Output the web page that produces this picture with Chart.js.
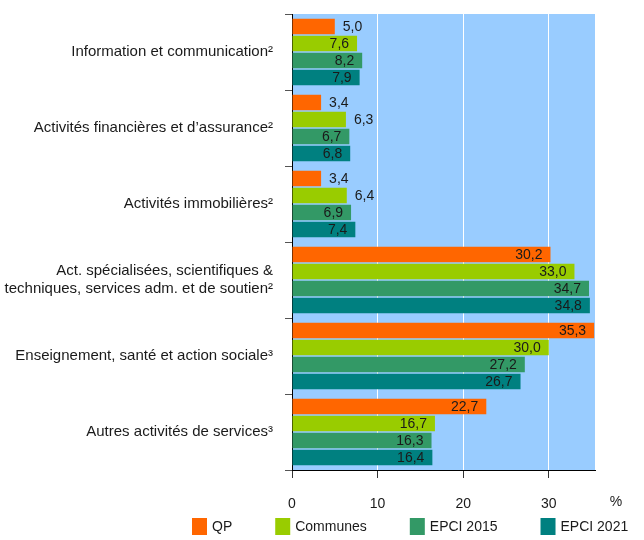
<!DOCTYPE html>
<html>
<head>
<meta charset="utf-8">
<script src="https://cdn.jsdelivr.net/npm/chart.js@4/dist/chart.umd.min.js"></script>
<style>
  body { margin: 0; background: #fff; }
  #wrap { width: 644px; height: 540px; }
</style>
</head>
<body>
<div id="wrap"><canvas id="chart" width="644" height="540"></canvas></div>
<script>
// categories (top to bottom)
const categories = [
  'Information et communication²',
  'Activités financières et d’assurance²',
  'Activités immobilières²',
  ['Act. spécialisées, scientifiques &', 'techniques, services adm. et de soutien²'],
  'Enseignement, santé et action sociale³',
  'Autres activités de services³'
];
const seriesNames = ['QP', 'Communes', 'EPCI 2015', 'EPCI 2021'];
const qp = [5.0, 3.4, 3.4, 30.2, 35.3, 22.7];
const communes = [7.6, 6.3, 6.4, 33.0, 30.0, 16.7];
const epci2015 = [8.2, 6.7, 6.9, 34.7, 27.2, 16.3];
const epci2021 = [7.9, 6.8, 7.4, 34.8, 26.7, 16.4];
const xTicks = [0, 10, 20, 30];

const colors = ['#ff6600', '#99cc00', '#339966', '#008080'];
const FONT = '"Liberation Sans", Arial, Helvetica, sans-serif';

// blue plot background
const plotBg = {
  id: 'plotBg',
  beforeDraw(chart) {
    const a = chart.chartArea, c = chart.ctx;
    c.save();
    c.fillStyle = '#99ccff';
    c.fillRect(a.left, a.top, a.right - a.left, a.bottom - a.top);
    c.restore();
  }
};

// value labels, inside the bar end when it fits, otherwise after it
const valueLabels = {
  id: 'valueLabels',
  afterDatasetsDraw(chart) {
    const c = chart.ctx;
    c.save();
    c.font = '14px ' + FONT;
    c.fillStyle = '#1a1a1a';
    c.textBaseline = 'middle';
    chart.data.datasets.forEach((ds, i) => {
      chart.getDatasetMeta(i).data.forEach((bar, j) => {
        const txt = ds.data[j].toFixed(1).replace('.', ',');
        const w = bar.x - bar.base;
        if (w >= 56) {
          c.textAlign = 'right';
          c.fillText(txt, bar.x - 8, bar.y + 1);
        } else {
          c.textAlign = 'left';
          c.fillText(txt, bar.x + 8, bar.y + 1);
        }
      });
    });
    c.restore();
  }
};

// "%" unit + legend row at the bottom
const extras = {
  id: 'extras',
  afterDraw(chart) {
    const c = chart.ctx;
    c.save();
    c.font = '14px ' + FONT;
    c.fillStyle = '#1a1a1a';
    c.textBaseline = 'middle';
    c.textAlign = 'center';
    c.fillText('%', 616, 502);

    let x = 192;
    const y = 526;
    c.textAlign = 'left';
    seriesNames.forEach((name, i) => {
      c.fillStyle = colors[i];
      c.fillRect(x, y - 8, 15, 17);
      c.fillStyle = '#1a1a1a';
      c.fillText(name, x + 20, y + 1);
      x += 20 + c.measureText(name).width + 43;
    });
    c.restore();
  }
};

new Chart(document.getElementById('chart'), {
  type: 'bar',
  data: {
    labels: categories,
    datasets: [
      { label: seriesNames[0], data: qp, backgroundColor: colors[0] },
      { label: seriesNames[1], data: communes, backgroundColor: colors[1] },
      { label: seriesNames[2], data: epci2015, backgroundColor: colors[2] },
      { label: seriesNames[3], data: epci2021, backgroundColor: colors[3] }
    ]
  },
  options: {
    indexAxis: 'y',
    responsive: false,
    animation: false,
    categoryPercentage: 0.895,
    barPercentage: 0.91,
    layout: { padding: { top: 14, right: 49, bottom: 26, left: 0 } },
    scales: {
      x: {
        min: 0,
        max: 35.4,
        afterBuildTicks(scale) { scale.ticks = xTicks.map(v => ({ value: v })); },
        afterFit(scale) { scale.height = 44; scale.paddingLeft = 0; scale.paddingRight = 0; },
        ticks: { includeBounds: false, padding: 18, color: '#1a1a1a', font: { family: FONT, size: 14 } },
        grid: { color: '#ffffff', tickColor: '#333', tickLength: 8, lineWidth: 1 },
        border: { display: true, color: '#000', width: 1 }
      },
      y: {
        afterFit(scale) { scale.width = 292; scale.paddingTop = 0; scale.paddingBottom = 0; },
        ticks: { padding: 12, color: '#1a1a1a', font: { family: FONT, size: 15 } },
        grid: { offset: true, drawOnChartArea: false, tickColor: '#555', tickLength: 7 },
        border: { display: true, color: '#000', width: 1 }
      }
    },
    plugins: {
      legend: { display: false },
      tooltip: { enabled: false }
    }
  },
  plugins: [plotBg, valueLabels, extras]
});
</script>
</body>
</html>
